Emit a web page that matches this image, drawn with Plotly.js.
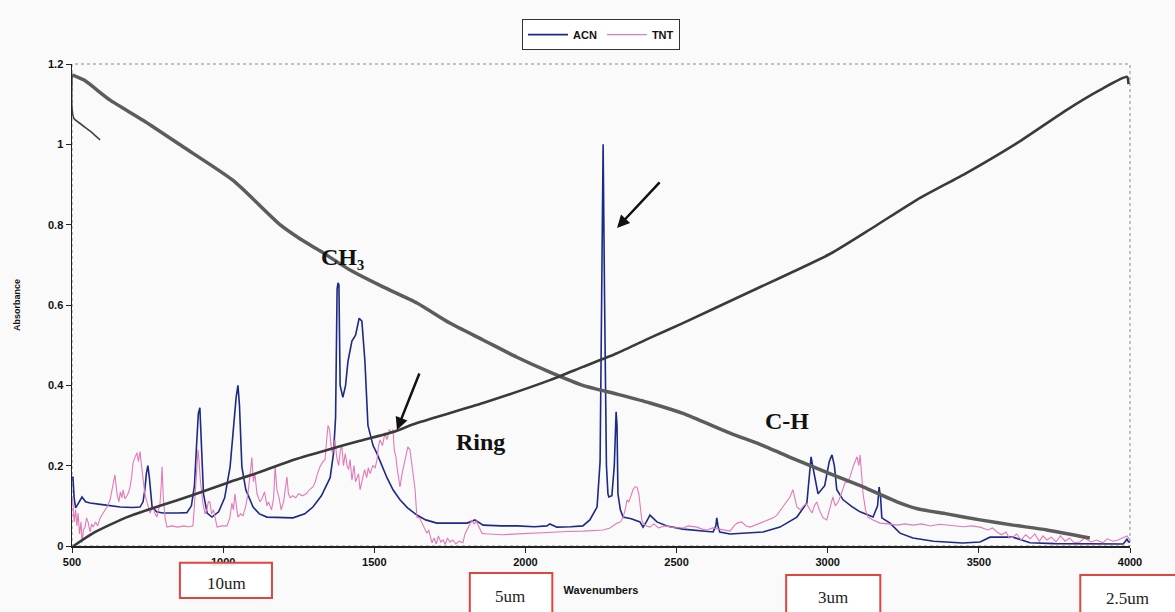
<!DOCTYPE html>
<html>
<head>
<meta charset="utf-8">
<script src="https://cdn.plot.ly/plotly-3.0.1.min.js"></script>
<style>html,body{margin:0;padding:0;background:#fafafa;}#chart{width:1175px;height:612px;}</style>
</head>
<body>
<div id="chart"></div>
<script>
// ACN spectrum (wavenumber, absorbance)
const acnX = [500,503,507,512,520,533,545,560,600,626,660,700,725,735,741,746,751,756,765,780,800,850,880,895,905,912,918,923,928,935,947,963,985,1005,1023,1035,1043,1049,1054,1062,1075,1099,1120,1145,1190,1231,1270,1297,1325,1354,1365,1372,1377,1380,1383,1387,1396,1405,1413,1426,1438,1450,1459,1469,1479,1496,1509,1525,1542,1562,1585,1610,1641,1670,1707,1760,1807,1833,1860,1920,1972,2030,2071,2081,2104,2150,2190,2213,2237,2247,2252,2257,2262,2268,2273,2276,2286,2294,2300,2303,2306,2314,2323,2350,2379,2389,2400,2412,2435,2468,2521,2570,2621,2630,2633,2637,2643,2677,2730,2786,2842,2898,2931,2940,2945,2950,2968,2990,3005,3014,3022,3030,3051,3080,3107,3150,3165,3170,3175,3179,3206,3239,3282,3350,3447,3504,3537,3613,3669,3750,3834,3900,3977,3985,3990,3995,4000];
const acnY = [0.17,0.172,0.12,0.095,0.105,0.122,0.11,0.107,0.103,0.1,0.097,0.096,0.097,0.11,0.14,0.18,0.2,0.17,0.097,0.085,0.082,0.082,0.083,0.1,0.15,0.25,0.33,0.344,0.25,0.13,0.082,0.072,0.085,0.12,0.197,0.3,0.37,0.4,0.35,0.197,0.14,0.097,0.08,0.072,0.07,0.07,0.08,0.097,0.125,0.17,0.23,0.32,0.64,0.655,0.65,0.4,0.37,0.4,0.46,0.51,0.525,0.567,0.56,0.46,0.3,0.25,0.23,0.2,0.17,0.14,0.115,0.095,0.077,0.065,0.057,0.057,0.057,0.065,0.052,0.05,0.05,0.048,0.05,0.055,0.047,0.048,0.05,0.065,0.097,0.21,0.6,1.0,0.6,0.2,0.13,0.122,0.125,0.2,0.334,0.3,0.13,0.09,0.072,0.068,0.06,0.047,0.06,0.077,0.06,0.05,0.042,0.038,0.035,0.05,0.07,0.05,0.035,0.03,0.032,0.035,0.047,0.072,0.107,0.18,0.222,0.2,0.13,0.15,0.21,0.227,0.2,0.14,0.115,0.098,0.085,0.072,0.1,0.147,0.12,0.07,0.057,0.032,0.02,0.012,0.0075,0.01,0.022,0.022,0.008,0.006,0.005,0.005,0.005,0.012,0.018,0.01,0.01];

// TNT spectrum
const tntX = [500,503,507,512,516,520,525,530,533,538,543,548,553,560,565,570,578,585,593,603,610,618,626,633,638,642,646,649,655,660,665,669,675,682,688,692,697,702,708,715,720,725,730,735,741,748,753,758,763,768,775,781,786,791,795,798,802,808,814,830,850,870,885,900,904,907,912,917,920,925,933,940,946,951,956,962,968,975,980,995,1013,1022,1029,1034,1039,1044,1049,1058,1066,1075,1082,1088,1095,1100,1105,1112,1118,1122,1130,1137,1145,1150,1160,1167,1172,1178,1185,1192,1200,1206,1211,1216,1222,1230,1240,1250,1262,1275,1285,1297,1305,1312,1320,1330,1337,1342,1347,1352,1357,1362,1370,1376,1382,1388,1393,1398,1404,1410,1415,1420,1426,1433,1438,1443,1448,1453,1460,1468,1475,1480,1486,1495,1503,1509,1514,1519,1527,1535,1542,1550,1558,1562,1566,1572,1575,1580,1585,1592,1598,1605,1611,1618,1624,1630,1635,1641,1650,1658,1665,1674,1680,1686,1691,1698,1705,1712,1720,1728,1735,1742,1750,1760,1770,1780,1793,1800,1810,1818,1823,1830,1838,1845,1856,1870,1883,1920,1972,2030,2081,2140,2190,2230,2257,2280,2303,2315,2323,2330,2336,2342,2350,2356,2362,2369,2375,2380,2385,2389,2400,2412,2425,2440,2460,2490,2521,2540,2567,2585,2600,2620,2645,2677,2690,2700,2715,2730,2743,2760,2776,2790,2809,2820,2832,2845,2855,2865,2875,2885,2892,2898,2910,2920,2930,2940,2948,2956,2964,2972,2985,2997,3005,3012,3017,3025,3035,3045,3057,3066,3074,3085,3092,3097,3103,3107,3112,3117,3125,3133,3150,3173,3200,3229,3255,3282,3310,3340,3370,3394,3420,3450,3475,3504,3530,3545,3560,3575,3590,3600,3613,3625,3640,3655,3670,3685,3700,3712,3725,3740,3755,3770,3785,3800,3815,3834,3850,3870,3890,3910,3925,3944,3960,3975,3990,4000];
const tntY = [0.12,0.107,0.06,0.09,0.05,0.082,0.03,0.06,0.008,0.04,0.047,0.07,0.06,0.035,0.055,0.047,0.06,0.05,0.07,0.082,0.09,0.1,0.115,0.14,0.165,0.177,0.15,0.13,0.11,0.135,0.12,0.14,0.118,0.125,0.135,0.147,0.17,0.207,0.22,0.232,0.21,0.235,0.2,0.165,0.13,0.11,0.095,0.082,0.09,0.097,0.08,0.072,0.09,0.105,0.15,0.197,0.12,0.07,0.047,0.05,0.047,0.05,0.048,0.05,0.09,0.13,0.2,0.24,0.215,0.16,0.107,0.08,0.09,0.11,0.11,0.08,0.09,0.06,0.047,0.05,0.05,0.07,0.107,0.09,0.13,0.1,0.072,0.08,0.075,0.1,0.13,0.17,0.22,0.16,0.18,0.13,0.12,0.11,0.12,0.135,0.1,0.11,0.09,0.12,0.197,0.14,0.12,0.09,0.11,0.14,0.172,0.13,0.12,0.125,0.12,0.13,0.125,0.13,0.14,0.147,0.16,0.18,0.197,0.21,0.215,0.26,0.3,0.29,0.25,0.23,0.264,0.22,0.2,0.24,0.247,0.2,0.23,0.2,0.19,0.215,0.164,0.2,0.16,0.17,0.18,0.14,0.16,0.19,0.17,0.195,0.18,0.2,0.195,0.215,0.25,0.264,0.25,0.28,0.265,0.29,0.28,0.29,0.24,0.22,0.197,0.17,0.147,0.18,0.2,0.23,0.247,0.24,0.2,0.16,0.14,0.072,0.07,0.057,0.045,0.032,0.04,0.02,0.008,0.02,0.005,0.025,0.01,0.015,0.004,0.02,0.01,0.015,0.005,0.012,0.008,0.03,0.047,0.06,0.065,0.055,0.062,0.05,0.032,0.03,0.03,0.028,0.03,0.032,0.035,0.036,0.037,0.038,0.04,0.045,0.057,0.06,0.072,0.09,0.115,0.11,0.13,0.14,0.147,0.147,0.13,0.1,0.065,0.057,0.05,0.047,0.055,0.045,0.05,0.046,0.045,0.05,0.047,0.042,0.04,0.045,0.042,0.037,0.05,0.057,0.06,0.05,0.047,0.052,0.057,0.06,0.065,0.07,0.077,0.09,0.1,0.11,0.122,0.14,0.12,0.097,0.09,0.1,0.105,0.09,0.082,0.1,0.11,0.09,0.07,0.065,0.09,0.11,0.122,0.1,0.11,0.13,0.157,0.16,0.172,0.2,0.215,0.222,0.2,0.227,0.18,0.13,0.09,0.072,0.065,0.057,0.055,0.052,0.055,0.052,0.055,0.05,0.054,0.052,0.05,0.048,0.05,0.047,0.04,0.045,0.035,0.028,0.035,0.02,0.022,0.03,0.015,0.028,0.018,0.03,0.012,0.025,0.015,0.022,0.01,0.025,0.012,0.02,0.008,0.01,0.02,0.01,0.015,0.008,0.018,0.012,0.015,0.02,0.025,0.015];

// Hand-drawn overlay curves
const downX = [500,540,626,735,867,1033,1188,1254,1320,1420,1529,1641,1750,1860,1972,2081,2190,2303,2412,2521,2677,2786,2898,3007,3117,3229,3300,3394,3504,3613,3725,3867];
const downY = [1.173,1.16,1.11,1.06,0.994,0.91,0.8,0.765,0.735,0.687,0.645,0.605,0.555,0.513,0.47,0.433,0.4,0.378,0.356,0.33,0.281,0.25,0.214,0.18,0.147,0.11,0.092,0.08,0.065,0.052,0.04,0.02];
const hookX = [500,499,500,506,530,565,593];
const hookY = [1.17,1.12,1.09,1.065,1.05,1.03,1.011];
const upX = [505,570,682,791,900,1013,1122,1231,1344,1453,1562,1641,1860,2081,2190,2303,2412,2521,2743,3007,3150,3295,3460,3626,3791,3900,3990,3995];
const upY = [0.0,0.032,0.072,0.1,0.127,0.157,0.184,0.214,0.239,0.262,0.284,0.306,0.356,0.413,0.446,0.48,0.518,0.555,0.633,0.727,0.793,0.862,0.929,1.003,1.086,1.135,1.168,1.15];

// Annotations
const labels = ['CH₃','Ring','C-H'];
const labelX = [1396,1850,2865];
const labelY = [0.72,0.258,0.31];
const waveLabels = ['10um','5um','3um','2.5um'];

const traces = [
  {x: acnX, y: acnY, name: 'ACN', type: 'scatter', mode: 'lines', line: {color: '#1c2a85', width: 1.6}},
  {x: tntX, y: tntY, name: 'TNT', type: 'scatter', mode: 'lines', line: {color: '#e27ab8', width: 1.1}},
  {x: downX, y: downY, type: 'scatter', mode: 'lines', line: {color: '#5c5c5c', width: 3.5, shape: 'spline', smoothing: 0.6}, showlegend: false, hoverinfo: 'skip'},
  {x: hookX, y: hookY, type: 'scatter', mode: 'lines', line: {color: '#444', width: 1.6, shape: 'spline', smoothing: 0.6}, showlegend: false, hoverinfo: 'skip'},
  {x: upX, y: upY, type: 'scatter', mode: 'lines', line: {color: '#3a3a3a', width: 2.6, shape: 'spline', smoothing: 0.6}, showlegend: false, hoverinfo: 'skip'}
];

const serif = 'Liberation Serif, Times New Roman, serif';
const ann = [];
for (let i = 0; i < labels.length; i++) {
  ann.push({x: labelX[i], y: labelY[i], xref: 'x', yref: 'y', text: labels[i], showarrow: false,
    font: {family: serif, size: 24, color: '#111', weight: 'bold'}});
}
// arrows
ann.push({x: 1575, y: 0.289, xref: 'x', yref: 'y', text: '', showarrow: true, arrowhead: 2, arrowsize: 1, arrowwidth: 2.5, arrowcolor: '#111', ax: 23, ay: -58});
ann.push({x: 2303, y: 0.792, xref: 'x', yref: 'y', text: '', showarrow: true, arrowhead: 2, arrowsize: 1, arrowwidth: 2.5, arrowcolor: '#111', ax: 44, ay: -47});

// wavelength boxes
const boxX0 = [0.102,0.376,0.675,0.953];
const boxX1 = [0.189,0.454,0.764,1.044];
const boxY0 = [-0.108,-0.141,-0.141,-0.141];
const boxY1 = [-0.035,-0.056,-0.060,-0.060];
const textX = [0.146,0.414,0.719,0.998];
const textY = [-0.077,-0.104,-0.106,-0.108];
const shapes = [
  {type: 'rect', xref: 'paper', yref: 'paper', x0: 0, x1: 1, y0: 0, y1: 1, line: {color: '#8a8a8a', width: 1, dash: 'dot'}, layer: 'below'}
];
for (let i = 0; i < waveLabels.length; i++) {
  shapes.push({type: 'rect', xref: 'paper', yref: 'paper', x0: boxX0[i], x1: boxX1[i], y0: boxY0[i], y1: boxY1[i],
    line: {color: '#e0453f', width: 2}, fillcolor: 'rgba(255,255,255,0.9)'});
  ann.push({x: textX[i], y: textY[i], xref: 'paper', yref: 'paper', xanchor: 'center', yanchor: 'middle',
    text: waveLabels[i], showarrow: false, font: {family: serif, size: 17, color: '#222'}});
}

const layout = {
  width: 1175, height: 612,
  margin: {l: 72, r: 45, t: 64, b: 66},
  paper_bgcolor: '#fafafa', plot_bgcolor: '#fafafa',
  font: {family: 'Liberation Sans, Arial, sans-serif', color: '#111'},
  showlegend: true,
  legend: {orientation: 'h', x: 0.5, xanchor: 'center', y: 1.093, yanchor: 'top', bgcolor: '#ffffff',
    bordercolor: '#333', borderwidth: 1, font: {size: 11, weight: 'bold'}, itemwidth: 40, tracegroupgap: 0},
  xaxis: {range: [500, 4000], tickvals: [500,1000,1500,2000,2500,3000,3500,4000], showgrid: false, zeroline: false,
    showline: true, linecolor: '#222', linewidth: 1.5, ticks: 'outside', ticklen: 5, tickcolor: '#222',
    tickfont: {size: 11, weight: 'bold'},
    title: {text: 'Wavenumbers', font: {size: 11, weight: 'bold'}, standoff: 19}},
  yaxis: {range: [0, 1.2], dtick: 0.2, showgrid: false, zeroline: false,
    showline: true, linecolor: '#222', linewidth: 1.5, ticks: 'outside', ticklen: 5, tickcolor: '#222',
    tickfont: {size: 11, weight: 'bold'},
    title: {text: 'Absorbance', font: {size: 9, weight: 'bold'}, standoff: 26}},
  shapes: shapes,
  annotations: ann
};

Plotly.newPlot('chart', traces, layout, {displayModeBar: false, staticPlot: true});
</script>
</body>
</html>
